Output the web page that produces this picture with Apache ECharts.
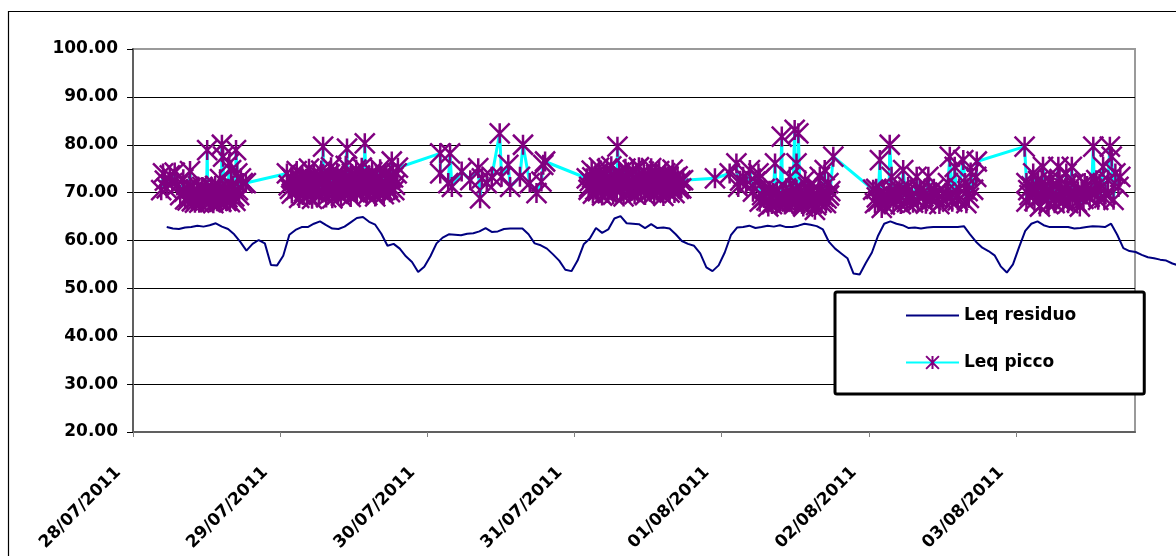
<!DOCTYPE html>
<html><head><meta charset="utf-8">
<script src="https://cdn.jsdelivr.net/npm/echarts@6/dist/echarts.min.js"></script>
<style>html,body{margin:0;padding:0;background:#fff}#c{width:1176px;height:556px}</style>
</head><body><div id="c"></div>
<script>
// x axis: hours since 28/07/2011 00:00
const dateLabels = ['28/07/2011','29/07/2011','30/07/2011','31/07/2011','01/08/2011','02/08/2011','03/08/2011'];
const yTicks = [20,30,40,50,60,70,80,90,100];
const residuoStartHour = 5.5;
const residuoValues = [
62.8,62.5,62.4,62.7,62.8,63.1,62.9,63.2,63.6,62.9,
62.4,61.3,59.7,57.9,59.3,60.1,59.4,54.9,54.8,56.8,
61.2,62.2,62.8,62.8,63.5,64.0,63.2,62.5,62.4,62.9,
63.8,64.7,64.9,63.9,63.3,61.4,58.9,59.3,58.3,56.7,
55.5,53.4,54.5,56.7,59.4,60.6,61.3,61.2,61.1,61.4,
61.5,61.9,62.6,61.8,61.9,62.4,62.5,62.5,62.5,61.3,
59.4,59.0,58.3,57.1,55.8,53.9,53.6,55.8,59.2,60.4,
62.6,61.6,62.3,64.6,65.1,63.6,63.5,63.4,62.6,63.4,
62.6,62.7,62.5,61.3,59.9,59.3,58.9,57.3,54.4,53.6,
54.8,57.5,61.1,62.7,62.8,63.1,62.6,62.8,63.1,62.9,
63.2,62.8,62.8,63.1,63.5,63.3,63.0,62.3,59.7,58.3,
57.3,56.3,53.1,52.9,55.3,57.5,61.0,63.5,64.0,63.5,
63.2,62.6,62.7,62.5,62.7,62.8,62.8,62.8,62.8,62.8,
63.0,61.3,59.7,58.5,57.8,56.9,54.6,53.3,55.0,58.6,
62.0,63.5,64.0,63.2,62.8,62.8,62.8,62.8,62.5,62.6,
62.8,63.0,62.9,62.8,63.5,61.2,58.4,57.8,57.6,57.0,
56.5,56.3,56.0,55.8,55.2,54.8];

// Leq picco: [hour, dB]
const picco28 = [[4.6,70.5],[4.9,74.0],[5.2,72.5],[5.5,70.9],[6.0,73.6],[6.4,72.0],[6.8,74.2],[7.2,71.5],[7.7,69.5],[8.2,72.8],[8.5,68.6],[8.8,70.8],[9.1,69.2],[9.3,74.5],[9.6,68.2],[9.9,70.5],[10.3,69.0],[10.6,71.3],[10.8,67.9],[11.1,69.8],[11.4,68.5],[11.7,70.6],[12.1,78.9],[12.2,69.3],[12.6,68.0],[12.9,71.0],[13.2,69.0],[13.5,70.2],[13.9,68.4],[14.2,72.8],[14.5,80.0],[14.7,77.5],[14.8,69.6],[15.2,68.3],[15.5,70.8],[15.7,76.1],[15.8,68.0],[16.0,74.7],[16.1,71.5],[16.5,69.2],[16.8,78.9],[17.0,74.0],[17.3,69.5],[17.6,73.0],[17.9,72.0],[18.4,72.0]];
const picco28b = [[8.4,70.2],[8.9,68.4],[9.4,71.0],[9.8,69.6],[10.1,67.9],[10.5,70.4],[10.9,69.1],[11.3,71.2],[11.6,68.9],[12.0,70.0],[12.4,68.6],[12.8,69.7],[13.1,67.8],[13.4,71.4],[13.7,69.3],[14.0,70.6],[14.4,68.1],[15.0,70.1],[15.4,69.0],[16.3,70.9],[16.7,68.3],[17.1,70.5]];
const picco29 = [[25.1,74.0],[25.4,71.5],[25.8,73.2],[25.9,69.8],[26.3,72.4],[26.6,70.6],[26.7,74.5],[27.1,68.9],[27.4,71.8],[27.6,73.6],[27.9,70.2],[28.2,72.9],[28.4,69.4],[28.7,75.0],[29.0,71.1],[29.2,68.7],[29.5,73.8],[29.8,70.5],[30.0,72.2],[30.3,69.6],[30.7,74.6],[31.0,79.6],[31.1,71.4],[31.5,69.0],[31.6,73.0],[32.0,70.9],[32.3,75.3],[32.5,68.8],[32.8,72.5],[33.1,70.3],[33.3,74.1],[33.6,71.7],[33.9,69.3],[34.1,73.4],[34.4,70.7],[34.7,75.6],[34.9,79.2],[35.2,72.0],[35.5,69.1],[35.7,73.9],[36.0,71.2],[36.4,74.8],[36.5,69.9],[36.9,72.7],[37.2,70.4],[37.3,75.2],[37.7,71.9],[37.8,80.3],[38.2,69.5],[38.5,73.5],[38.6,70.8],[39.0,74.3],[39.3,72.1],[39.5,69.2],[39.8,73.1],[40.1,70.6],[40.3,74.9],[40.6,71.6],[40.9,69.7],[41.1,73.7],[41.4,70.9],[41.7,72.8],[41.9,70.1],[42.2,76.5],[42.4,73.2],[42.7,71.6],[43.0,74.0],[43.2,75.2]];
const picco29b = [[25.6,70.8],[26.0,72.9],[26.9,71.2],[27.2,73.0],[27.7,69.5],[28.0,72.2],[28.5,71.0],[28.9,73.2],[29.3,70.3],[29.7,72.6],[30.1,71.3],[30.5,73.4],[30.9,70.0],[31.3,72.4],[31.8,71.2],[32.1,73.8],[32.6,70.5],[33.0,72.7],[33.4,69.8],[33.8,72.0],[34.2,71.4],[34.6,73.3],[35.0,70.2],[35.4,72.8],[35.9,70.6],[36.2,72.3],[36.7,71.1],[37.0,73.6],[37.5,70.3],[38.0,72.4],[38.4,71.5],[38.8,73.0],[39.1,70.1],[39.6,72.6],[40.0,71.3],[40.4,73.2],[40.8,70.4],[41.2,72.0],[41.6,71.0],[42.0,73.1],[42.6,70.5]];
const picco30 = [[50.1,78.2],[50.1,74.0],[51.4,72.0],[51.7,78.2],[52.0,71.2],[53.6,74.4],[55.0,72.6],[56.3,75.1],[56.6,68.8],[56.9,73.0],[57.7,72.0],[58.5,73.3],[59.8,82.4],[60.1,73.3],[61.2,75.8],[61.5,71.2],[63.1,73.3],[63.6,80.0],[64.7,72.0],[65.8,69.9],[66.6,72.3],[66.9,75.8],[67.2,76.5]];
const picco31 = [[74.0,73.0],[74.3,70.6],[74.5,72.4],[74.8,74.6],[75.0,69.8],[75.3,71.9],[75.5,73.8],[75.8,70.3],[76.0,75.2],[76.3,72.1],[76.5,69.4],[76.8,73.5],[77.0,71.0],[77.3,74.9],[77.5,70.0],[77.8,72.7],[78.0,75.5],[78.3,69.6],[78.5,73.2],[78.8,71.4],[79.0,79.6],[79.3,74.2],[79.5,70.5],[79.8,72.9],[80.0,69.2],[80.3,75.0],[80.5,71.7],[80.8,73.9],[81.0,70.1],[81.3,72.4],[81.5,74.7],[81.8,69.7],[82.0,73.1],[82.3,71.2],[82.5,75.3],[82.8,70.4],[83.0,72.8],[83.3,74.4],[83.5,69.5],[83.8,71.9],[84.0,73.6],[84.3,70.2],[84.5,75.1],[84.8,72.0],[85.0,69.9],[85.3,73.7],[85.5,71.3],[85.8,74.5],[86.0,70.6],[86.3,72.6],[86.5,69.3],[86.8,74.0],[87.0,71.6],[87.3,73.3],[87.5,70.0],[87.8,72.2],[88.0,74.8],[88.3,69.9],[88.5,71.8],[88.8,73.4],[89.0,70.8],[89.3,72.5],[89.7,72.6],[94.9,73.0]];
const picco31b = [[74.4,71.2],[74.9,73.2],[75.4,70.6],[75.9,72.8],[76.4,71.0],[76.9,72.4],[77.4,69.9],[77.9,71.6],[78.4,73.4],[78.9,70.8],[79.4,72.3],[79.9,71.1],[80.4,73.0],[80.9,70.7],[81.4,72.1],[81.9,71.5],[82.4,73.3],[82.9,70.6],[83.4,72.2],[83.9,71.3],[84.4,73.1],[84.9,70.9],[85.4,72.5],[85.9,71.2],[86.4,73.0],[86.9,70.5],[87.4,72.4],[87.9,71.0],[88.4,73.1],[88.9,71.7],[89.4,70.9]];
const picco01 = [[97.3,74.0],[98.4,76.1],[98.7,71.2],[99.0,72.5],[99.5,73.3],[100.0,71.6],[100.6,74.7],[101.1,70.2],[101.5,72.3],[102.0,74.0],[102.2,73.0],[102.2,68.1],[102.6,69.5],[103.0,70.8],[103.3,68.4],[103.6,67.1],[103.9,69.0],[104.2,67.6],[104.4,69.9],[104.7,76.1],[105.0,70.2],[105.2,68.8],[105.5,68.1],[105.8,81.7],[106.0,69.4],[106.3,67.5],[106.5,70.9],[106.8,68.5],[107.1,73.3],[107.4,68.2],[107.6,69.8],[107.9,83.1],[108.0,67.8],[108.2,76.1],[108.2,70.6],[108.5,82.4],[108.8,69.1],[109.0,70.4],[109.3,67.1],[109.6,72.6],[109.9,68.0],[110.1,71.2],[110.4,69.9],[110.7,67.7],[111.0,69.6],[111.2,66.4],[111.5,68.3],[111.8,70.7],[112.0,73.3],[112.3,67.9],[112.6,69.2],[112.8,74.7],[113.1,68.8],[113.4,72.0],[113.7,70.3],[114.2,77.5]];
const picco01b = [[102.9,68.9],[103.8,70.4],[104.9,67.9],[105.9,69.0],[106.6,68.0],[107.3,70.0],[108.4,68.7],[109.1,67.6],[109.8,69.4],[110.6,70.3],[111.4,67.4],[112.2,69.7],[113.0,67.8],[113.5,69.4]];
const picco02 = [[120.7,70.6],[121.0,67.8],[121.3,69.0],[121.5,68.2],[121.8,76.8],[122.1,66.8],[122.4,70.1],[122.6,67.5],[122.9,69.2],[123.1,68.7],[123.4,80.0],[123.7,73.3],[124.0,67.9],[124.2,70.4],[124.5,68.5],[124.8,69.6],[125.2,67.6],[125.6,74.7],[126.0,69.8],[126.4,71.2],[126.7,68.5],[127.2,67.9],[127.8,73.3],[128.3,70.6],[128.9,69.2],[129.3,67.7],[129.7,73.3],[130.2,68.5],[130.6,70.8],[131.0,69.9],[131.5,67.6],[132.1,68.5],[132.5,70.0],[132.9,72.0],[133.2,77.5],[133.6,68.1],[134.0,75.4],[134.3,69.2],[134.7,70.9],[135.4,76.8],[135.7,72.0],[135.9,67.8],[136.3,68.9],[136.6,74.2],[137.0,70.6],[137.5,73.3],[137.6,76.5]];
const picco02b = [[121.2,70.8],[122.0,68.9],[123.3,70.0],[124.4,69.2],[125.0,70.5],[126.2,68.0],[127.0,69.5],[128.0,68.3],[129.0,70.2],[130.0,69.0],[131.2,68.8],[132.8,68.9],[134.5,68.4],[136.1,70.3]];
const picco03 = [[145.4,79.6],[145.7,72.0],[145.7,68.1],[146.2,69.5],[146.5,71.3],[146.8,74.0],[147.0,68.3],[147.3,70.6],[147.6,72.4],[147.9,67.1],[148.1,69.2],[148.4,75.4],[148.7,71.0],[149.0,68.5],[149.3,67.6],[149.5,72.6],[149.8,70.3],[150.3,67.8],[150.6,69.0],[150.9,75.4],[151.1,72.8],[151.4,70.6],[151.7,68.2],[152.0,70.9],[152.2,74.0],[152.5,67.8],[152.8,69.4],[153.1,75.4],[153.4,71.8],[153.6,69.9],[153.9,68.0],[154.4,67.1],[154.7,70.5],[155.0,68.7],[155.2,72.0],[155.6,71.4],[156.0,69.1],[156.3,70.2],[156.6,79.6],[157.1,72.6],[157.4,68.5],[157.8,70.9],[158.2,75.4],[158.6,69.6],[159.0,72.6],[159.3,79.6],[159.6,77.5],[159.9,68.5],[160.2,74.0],[160.7,71.2],[161.0,73.3]];
const picco03b = [[146.0,70.5],[147.1,69.8],[148.2,72.0],[149.1,70.0],[150.0,71.6],[151.0,68.6],[152.3,71.6],[153.2,68.8],[154.1,70.3],[155.4,69.6],[156.8,70.0],[157.6,71.8],[158.4,68.9]];

const residuoData = residuoValues.map((v, i) => [residuoStartHour + i, v]);
const piccoData = [].concat(picco28, picco28b, picco29, picco29b, picco30, picco31, picco31b,
  picco01, picco01b, picco02, picco02b, picco03, picco03b).sort((a, b) => a[0] - b[0]);

const FONT = 'DejaVu Sans';
const X_MAX = 163.4;                     // right edge of the plot area
const X_MAX_WIDE = X_MAX * 1043 / 1002;  // same scale, reaching the page edge (residuo overflows the frame)
const chart = echarts.init(document.getElementById('c'), null, {renderer: 'canvas'});
chart.setOption({
  animation: false,
  backgroundColor: '#fff',
  graphic: [{type: 'rect', left: 6, top: 9, shape: {width: 1300, height: 700}, style: {fill: 'none', stroke: '#000', lineWidth: 1.2}, z: 0, silent: true}],
  grid: [
    {left: 133, right: 41, top: 49, bottom: 124, show: true, borderColor: '#9a9a9a', borderWidth: 2, backgroundColor: '#fff'},
    {left: 133, right: 0, top: 49, bottom: 124, show: false}
  ],
  xAxis: [{
    type: 'value', min: 0, max: X_MAX, interval: 24, gridIndex: 0,
    axisLine: {show: true, onZero: false, lineStyle: {color: '#606060', width: 2}},
    axisTick: {show: true, length: 5, lineStyle: {color: '#808080', width: 1}},
    splitLine: {show: false},
    axisLabel: {
      rotate: 45, margin: 23, showMaxLabel: false,
      fontFamily: FONT, fontWeight: 'bold', fontSize: 17, color: '#000',
      padding: [0, 21, 0, 0],
      formatter: v => (v % 24 === 0 ? dateLabels[v / 24] : '')
    }
  }, {
    type: 'value', min: 0, max: X_MAX_WIDE, gridIndex: 1, show: false
  }],
  yAxis: [{
    type: 'value', min: yTicks[0], max: yTicks[yTicks.length - 1], interval: 10, gridIndex: 0,
    axisLine: {show: true, lineStyle: {color: '#606060', width: 2}},
    axisTick: {show: true, length: 6, lineStyle: {color: '#000', width: 1}},
    splitLine: {show: true, showMaxLine: false, lineStyle: {color: '#000', width: 1}},
    axisLabel: {margin: 15, fontFamily: FONT, fontWeight: 'bold', fontSize: 17, color: '#000', formatter: v => v.toFixed(2)}
  }, {
    type: 'value', min: yTicks[0], max: yTicks[yTicks.length - 1], gridIndex: 1, show: false
  }],
  legend: {
    orient: 'vertical', left: 835, top: 292,
    padding: [15, 68, 23, 70], itemGap: 30, itemWidth: 53, itemHeight: 16,
    backgroundColor: '#fff', borderColor: '#000', borderWidth: 3, borderRadius: 2,
    textStyle: {fontFamily: FONT, fontWeight: 'bold', fontSize: 17, color: '#000'},
    data: [{name: 'Leq residuo', itemStyle: {opacity: 0}}, {name: 'Leq picco'}]
  },
  series: [
    {
      name: 'Leq picco', type: 'line', data: piccoData, xAxisIndex: 0, yAxisIndex: 0,
      symbol: 'path://M0,0L20,20M20,0L0,20M10,0L10,20', symbolSize: 20,
      itemStyle: {color: '#800080', borderColor: '#800080', borderWidth: 2.5},
      lineStyle: {color: '#00FFFF', width: 3}, z: 3
    },
    {
      name: 'Leq residuo', type: 'line', data: residuoData, xAxisIndex: 1, yAxisIndex: 1,
      symbol: 'none', lineStyle: {color: '#000080', width: 2}, itemStyle: {color: '#000080'}, z: 4
    }
  ]
});
</script></body></html>
